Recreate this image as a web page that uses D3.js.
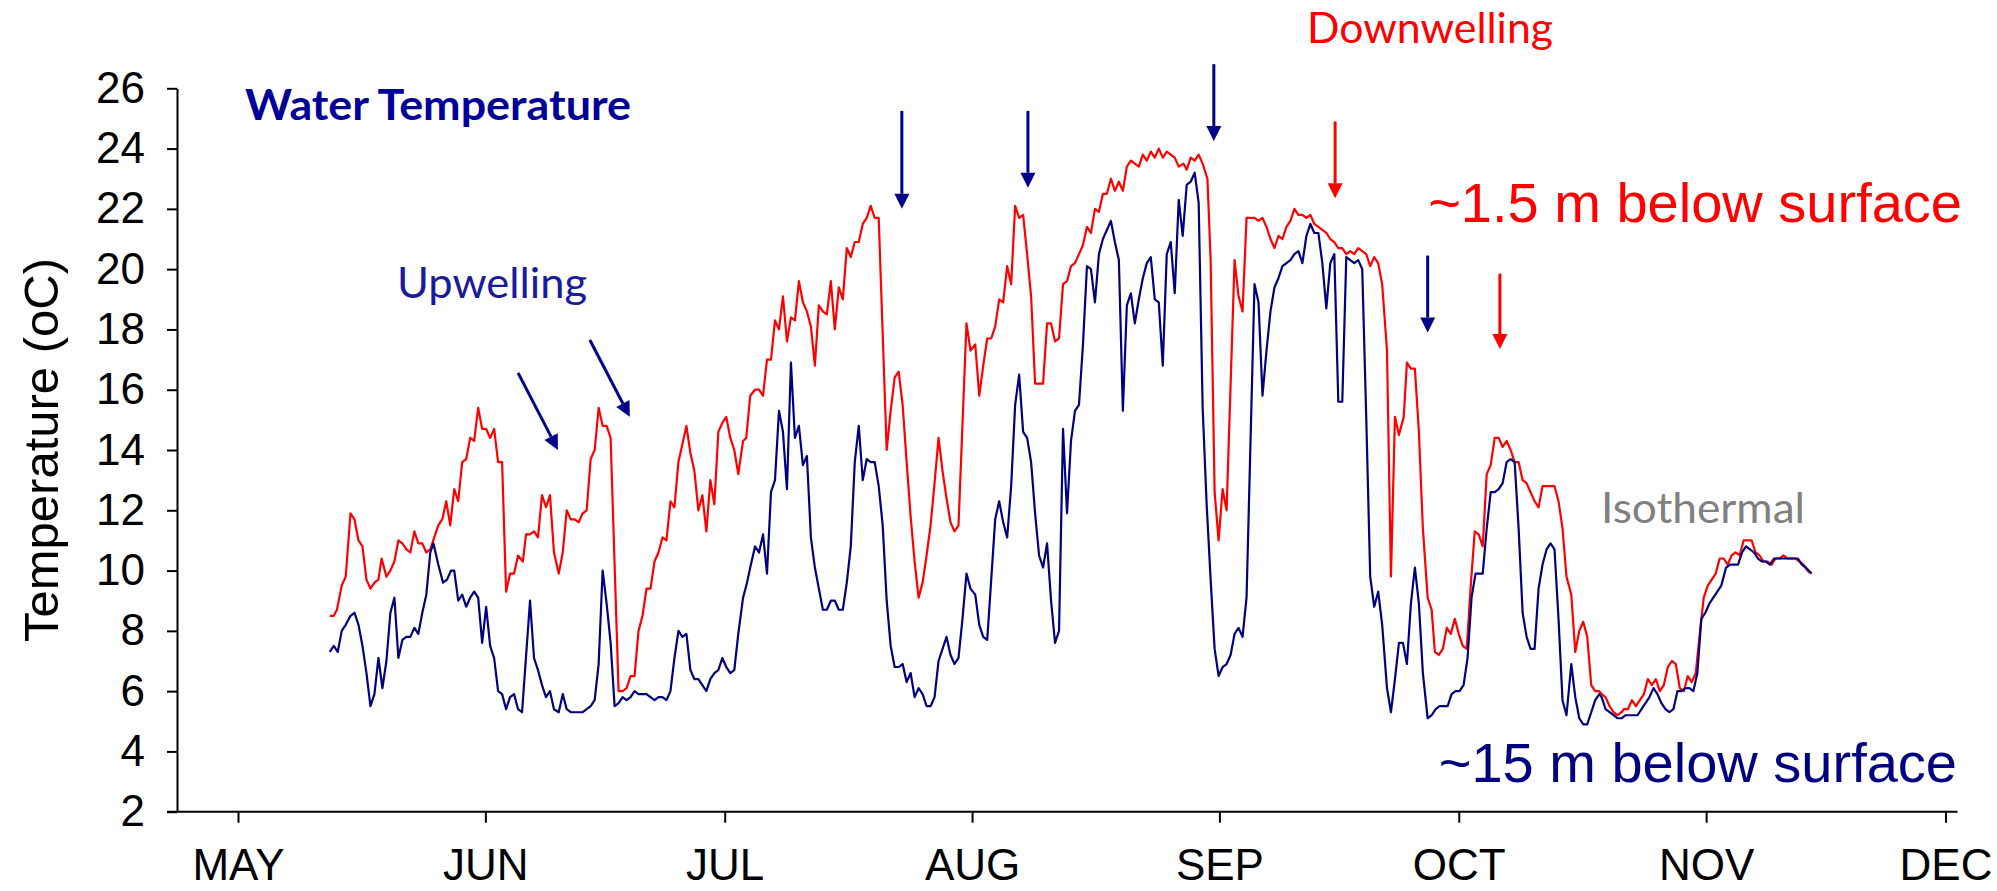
<!DOCTYPE html>
<html>
<head>
<meta charset="utf-8">
<script src="https://cdn.jsdelivr.net/npm/d3@7"></script>
<style>
  body { margin: 0; background: #fff; }
  svg { display: block; }
</style>
</head>
<body>
<svg width="1997" height="891"></svg>
<script>
// day offset from May 1, temperature (oC)
const surfaceSeries = [
  [11.5,8.5],[12.0,8.5],[12.4,8.7],[13.0,9.5],[13.5,9.8],[14.1,11.9],[14.6,11.7],[15.1,11.0],[15.6,10.8],[16.1,9.7],
  [16.6,9.4],[17.1,9.6],[17.6,9.7],[18.0,10.4],[18.6,9.8],[19.1,10.0],[19.6,10.3],[20.1,11.0],[20.6,10.9],[21.1,10.7],
  [21.6,10.6],[22.1,11.3],[22.6,10.9],[23.1,10.9],[23.6,10.6],[24.1,10.7],[24.6,11.1],[25.1,11.5],[25.6,11.7],[26.1,12.3],
  [26.6,11.5],[27.1,12.7],[27.6,12.3],[28.1,13.6],[28.6,13.7],[29.1,14.4],[29.6,14.3],[30.1,15.4],[30.6,14.7],[31.1,14.7],
  [31.6,14.4],[32.1,14.7],[32.6,13.6],[33.1,13.6],[33.6,9.3],[34.1,9.9],[34.6,9.9],[35.1,10.5],[35.7,10.3],[36.1,11.2],
  [36.6,11.2],[37.1,11.3],[37.6,11.1],[38.1,12.5],[38.6,12.1],[39.1,12.5],[39.6,10.6],[40.2,9.9],[40.7,10.6],[41.2,12.0],
  [41.7,11.7],[42.2,11.7],[42.7,11.6],[43.2,11.9],[43.7,12.0],[44.2,13.7],[44.7,14.0],[45.2,15.4],[45.7,14.8],[46.2,14.8],
  [46.7,14.4],[47.7,6.0],[48.2,6.0],[48.7,6.1],[49.2,6.5],[49.7,6.5],[50.2,8.0],[50.7,8.5],[51.2,9.4],[51.7,9.4],
  [52.2,10.3],[52.7,10.6],[53.2,11.1],[53.7,11.0],[54.2,12.3],[54.7,12.1],[55.2,13.6],[55.7,14.2],[56.2,14.8],[56.7,13.9],
  [57.2,13.3],[57.7,12.0],[58.2,12.5],[58.7,11.3],[59.2,13.0],[59.7,12.2],[60.2,14.6],[60.7,14.9],[61.2,15.1],[61.7,14.4],
  [62.2,14.0],[62.7,13.2],[63.3,14.3],[63.7,14.4],[64.2,15.8],[64.8,16.0],[65.3,16.0],[65.8,15.8],[66.3,17.0],[66.8,17.0],
  [67.3,18.3],[67.8,18.0],[68.3,19.1],[68.8,17.6],[69.3,18.4],[69.8,18.3],[70.3,19.6],[70.8,18.9],[71.3,18.6],[71.8,18.1],
  [72.3,16.8],[72.8,18.8],[73.3,18.6],[73.8,18.5],[74.3,19.6],[74.8,18.0],[75.3,19.4],[75.8,19.0],[76.3,20.7],[76.8,20.4],
  [77.3,20.9],[77.8,20.9],[78.3,21.5],[78.8,21.7],[79.3,22.1],[79.8,21.7],[80.3,21.7],[81.3,14.0],[81.8,15.3],[82.3,16.4],
  [82.8,16.6],[83.3,15.5],[83.8,13.6],[84.3,11.8],[84.8,10.3],[85.3,9.1],[85.8,9.6],[86.3,10.5],[86.8,11.5],[87.3,12.9],
  [87.8,14.4],[88.3,13.3],[88.8,12.4],[89.3,11.6],[89.8,11.3],[90.3,11.5],[91.3,18.2],[91.8,17.3],[92.4,17.5],[92.9,15.8],
  [93.4,16.8],[93.9,17.7],[94.4,17.7],[94.9,18.1],[95.4,19.0],[95.9,18.9],[96.4,20.1],[96.9,19.5],[97.4,22.1],[97.9,21.7],
  [98.4,21.8],[98.9,20.5],[99.4,19.1],[99.9,16.2],[100.4,16.2],[100.9,16.2],[101.4,18.2],[101.9,18.2],[102.4,17.6],[102.9,17.7],
  [103.4,19.5],[103.9,19.6],[104.4,20.1],[104.9,20.2],[105.4,20.5],[105.9,20.8],[106.4,21.4],[106.9,21.2],[107.4,22.0],[107.9,21.9],
  [108.4,22.5],[108.9,22.5],[109.4,23.0],[109.9,22.6],[110.4,22.9],[110.9,22.6],[111.4,23.4],[111.9,23.6],[112.4,23.5],[112.9,23.4],
  [113.4,23.8],[113.9,23.6],[114.4,23.9],[114.9,23.7],[115.4,24.0],[115.9,23.7],[116.4,23.9],[116.9,23.8],[117.4,23.7],[117.9,23.4],
  [118.5,23.5],[118.9,23.3],[119.4,23.7],[119.9,23.6],[120.4,23.8],[120.9,23.5],[121.5,23.0],[121.9,20.3],[122.4,12.6],[122.9,11.0],
  [123.4,12.7],[123.9,12.0],[124.9,20.3],[125.4,19.1],[125.9,18.6],[126.4,21.7],[126.9,21.7],[127.4,21.7],[127.9,21.6],[128.4,21.7],
  [128.9,21.4],[129.4,21.0],[129.9,20.7],[130.4,21.1],[130.9,21.0],[131.4,21.4],[131.9,21.6],[132.4,22.0],[132.9,21.8],[133.4,21.8],
  [133.9,21.7],[134.4,21.8],[134.9,21.5],[135.4,21.4],[135.9,21.3],[136.4,21.2],[136.9,21.0],[137.4,20.9],[137.9,20.7],[138.4,20.7],
  [138.9,20.5],[139.4,20.6],[139.9,20.5],[140.4,20.7],[140.9,20.6],[141.4,20.5],[141.9,20.1],[142.4,20.4],[142.9,20.2],[143.4,19.5],
  [144.0,17.3],[144.5,9.8],[145.0,15.1],[145.5,14.5],[146.1,15.1],[146.5,16.9],[147.0,16.7],[147.5,16.7],[148.0,14.6],[148.5,11.4],
  [149.1,9.1],[149.6,8.7],[150.0,7.3],[150.5,7.2],[151.0,7.4],[151.5,8.1],[152.0,7.9],[152.5,8.4],[153.0,7.9],[153.5,7.5],
  [154.0,7.4],[154.5,9.5],[155.0,11.3],[155.5,11.2],[156.0,10.8],[156.5,13.2],[157.0,13.5],[157.5,14.4],[158.0,14.4],[158.5,14.1],
  [159.0,14.3],[159.5,14.0],[160.0,13.6],[160.5,13.6],[161.0,13.0],[161.5,12.9],[162.0,12.6],[162.5,12.3],[163.0,12.1],[163.5,12.8],
  [164.0,12.8],[164.5,12.8],[165.0,12.8],[165.5,12.3],[166.0,11.4],[166.5,9.8],[167.1,9.2],[167.6,7.3],[168.1,8.0],[168.6,8.3],
  [169.1,7.8],[169.6,6.2],[170.1,6.0],[170.6,6.0],[170.9,5.9],[171.4,5.8],[171.9,5.5],[172.4,5.3],[172.9,5.2],[173.4,5.3],
  [173.7,5.4],[174.2,5.4],[174.7,5.7],[175.2,5.5],[175.7,5.7],[176.2,5.9],[176.7,6.4],[177.2,6.2],[177.7,6.4],[178.2,6.0],
  [178.7,6.2],[179.2,6.8],[179.7,7.0],[180.2,6.9],[180.7,6.1],[181.2,6.0],[181.7,6.5],[182.2,6.3],[182.7,6.6],[183.2,7.9],
  [183.7,9.1],[184.2,9.5],[184.7,9.7],[185.2,9.9],[185.7,10.4],[186.2,10.4],[186.7,10.2],[187.2,10.5],[187.7,10.6],[188.2,10.5],
  [188.7,11.0],[189.2,11.0],[189.7,11.0],[190.2,10.6],[190.7,10.5],[191.2,10.3],[191.7,10.3],[192.2,10.2],[192.7,10.4],[193.2,10.4],
  [193.7,10.5],[194.2,10.4],[194.7,10.4],[195.2,10.4],[195.7,10.3],[196.2,10.2],[196.7,10.0],[197.2,9.9]
];

const deepSeries = [
  [11.5,7.3],[12.0,7.5],[12.5,7.3],[13.0,8.0],[13.5,8.2],[14.1,8.5],[14.6,8.6],[15.1,8.2],[15.6,7.5],[16.1,6.6],
  [16.6,5.5],[17.1,5.9],[17.6,7.1],[18.1,6.1],[18.6,7.0],[19.1,8.6],[19.6,9.1],[20.1,7.1],[20.6,7.7],[21.1,7.8],
  [21.6,7.8],[22.1,8.1],[22.6,7.9],[23.1,8.6],[23.6,9.2],[24.1,10.6],[24.5,10.9],[25.1,10.2],[25.7,9.6],[26.2,9.7],
  [26.7,10.0],[27.1,10.0],[27.6,9.0],[28.1,9.2],[28.6,8.8],[29.1,9.1],[29.6,9.3],[30.1,9.1],[30.6,7.6],[31.1,8.8],
  [31.6,7.5],[32.1,7.1],[32.6,6.0],[33.1,5.9],[33.6,5.4],[34.1,5.8],[34.6,5.9],[35.1,5.4],[35.6,5.3],[36.6,9.0],
  [37.1,7.1],[37.6,6.7],[38.1,6.2],[38.6,5.8],[39.1,6.0],[39.6,5.4],[40.2,5.3],[40.7,5.9],[41.2,5.4],[41.7,5.3],
  [42.2,5.3],[42.7,5.3],[43.2,5.3],[43.7,5.4],[44.2,5.5],[44.7,5.7],[45.2,6.9],[45.7,10.0],[46.2,8.9],[46.7,7.6],
  [47.2,5.5],[47.7,5.6],[48.2,5.8],[48.7,5.7],[49.2,5.8],[49.7,6.0],[50.2,5.9],[50.7,5.9],[51.2,5.9],[51.7,5.8],
  [52.2,5.7],[52.7,5.8],[53.2,5.8],[53.7,5.7],[54.2,6.0],[54.7,7.1],[55.2,8.0],[55.7,7.8],[56.2,7.9],[56.7,6.7],
  [57.2,6.4],[57.7,6.4],[58.2,6.2],[58.7,6.0],[59.2,6.4],[59.7,6.6],[60.2,6.7],[60.7,7.1],[61.2,6.8],[61.7,6.6],
  [62.2,6.7],[62.7,7.9],[63.3,9.1],[63.8,9.6],[64.2,10.1],[64.8,10.8],[65.3,10.6],[65.8,11.2],[66.3,9.9],[66.8,12.6],
  [67.3,13.0],[67.8,15.3],[68.3,14.6],[68.8,12.7],[69.3,16.9],[69.8,14.4],[70.3,14.8],[70.8,13.5],[71.3,13.8],[71.8,11.1],
  [72.3,10.1],[72.8,9.4],[73.3,8.7],[73.8,8.7],[74.3,9.0],[74.8,9.0],[75.3,8.7],[75.8,8.7],[76.3,9.6],[76.8,10.8],
  [77.3,13.6],[77.8,14.8],[78.3,13.0],[78.8,13.7],[79.3,13.6],[79.8,13.6],[80.3,12.8],[80.8,11.5],[81.3,9.0],[81.8,7.5],
  [82.3,6.8],[82.8,6.8],[83.3,6.9],[83.8,6.3],[84.3,6.6],[84.8,5.8],[85.3,6.1],[85.8,5.9],[86.3,5.5],[86.8,5.5],
  [87.3,5.8],[87.8,7.0],[88.3,7.4],[88.8,7.8],[89.3,7.2],[89.8,6.9],[90.3,7.1],[90.8,8.4],[91.3,9.9],[91.8,9.4],
  [92.4,9.2],[92.9,8.2],[93.4,7.8],[93.9,7.7],[94.4,9.7],[94.9,11.7],[95.4,12.3],[95.9,11.6],[96.4,11.1],[96.9,12.8],
  [97.4,15.5],[97.9,16.5],[98.4,14.6],[98.9,14.4],[99.4,13.6],[99.9,11.9],[100.4,10.5],[100.9,10.1],[101.4,10.9],[101.9,9.0],
  [102.4,7.6],[102.9,8.0],[103.4,14.7],[103.9,11.9],[104.4,14.3],[104.9,15.3],[105.4,15.5],[105.9,17.5],[106.4,20.1],[106.9,20.0],
  [107.4,18.9],[107.9,20.5],[108.4,21.0],[108.9,21.3],[109.4,21.6],[109.9,20.9],[110.4,20.3],[110.9,15.3],[111.4,18.8],[111.9,19.2],
  [112.4,18.2],[112.9,19.0],[113.4,19.7],[113.9,20.2],[114.4,20.4],[114.9,19.0],[115.4,18.9],[115.9,16.8],[116.4,20.5],[116.9,20.9],
  [117.4,19.2],[117.9,22.3],[118.4,21.1],[118.9,22.8],[119.4,22.9],[119.9,23.2],[120.4,22.2],[120.9,15.4],[121.4,12.2],[121.9,9.7],
  [122.4,7.4],[122.9,6.5],[123.4,6.8],[123.9,6.9],[124.4,7.2],[124.9,7.9],[125.4,8.1],[125.9,7.8],[126.4,9.1],[126.9,14.3],
  [127.4,19.5],[127.9,18.9],[128.4,15.8],[128.9,17.3],[129.4,18.6],[129.9,19.4],[130.4,19.7],[130.9,20.1],[131.4,20.2],[131.9,20.3],
  [132.4,20.5],[132.9,20.6],[133.4,20.2],[133.9,21.1],[134.4,21.5],[134.9,21.2],[135.4,21.2],[135.9,20.2],[136.4,18.7],[136.9,20.2],
  [137.4,20.5],[137.9,15.6],[138.4,15.6],[138.9,20.4],[139.4,20.3],[139.9,20.2],[140.4,20.3],[140.9,20.0],[141.4,15.1],[141.9,9.8],
  [142.4,8.8],[142.9,9.3],[143.4,8.2],[144.0,6.1],[144.5,5.3],[145.0,6.4],[145.5,7.6],[146.0,7.6],[146.5,6.9],[147.0,8.9],
  [147.5,10.1],[148.0,8.9],[148.5,6.6],[149.1,5.1],[149.6,5.2],[150.1,5.4],[150.6,5.5],[151.1,5.5],[151.6,5.5],[152.1,5.9],
  [152.6,6.0],[153.1,6.0],[153.6,6.2],[154.1,7.1],[154.6,9.1],[155.1,9.9],[156.0,9.9],[156.5,11.4],[157.0,12.6],[157.5,12.6],
  [158.0,12.7],[158.5,12.9],[159.0,13.6],[159.5,13.7],[160.0,13.6],[160.5,11.4],[161.0,8.6],[161.5,7.8],[162.0,7.4],[162.5,7.4],
  [163.0,9.4],[163.5,10.2],[164.0,10.7],[164.5,10.9],[165.0,10.7],[165.5,8.4],[166.0,5.7],[166.5,5.2],[167.1,6.9],[167.6,5.8],
  [168.1,5.1],[168.6,4.9],[169.1,4.9],[169.6,5.3],[170.1,5.7],[170.6,5.9],[170.9,5.8],[171.4,5.4],[171.9,5.3],[172.4,5.2],
  [172.9,5.1],[173.4,5.1],[173.9,5.2],[174.4,5.2],[174.9,5.2],[175.4,5.2],[175.9,5.4],[176.4,5.6],[176.9,5.8],[177.4,6.1],
  [177.9,5.9],[178.4,5.6],[178.9,5.4],[179.4,5.3],[179.9,5.4],[180.4,6.0],[180.9,6.0],[181.4,6.1],[181.9,6.1],[182.4,6.0],
  [182.9,6.6],[183.4,8.4],[183.9,8.6],[184.4,8.9],[184.9,9.1],[185.4,9.3],[185.9,9.5],[186.5,10.1],[187.0,10.2],[187.5,10.2],
  [188.0,10.2],[188.5,10.6],[189.0,10.8],[189.5,10.7],[190.0,10.6],[190.5,10.4],[191.0,10.3],[191.5,10.3],[192.0,10.2],[192.5,10.4],
  [193.0,10.4],[193.5,10.4],[194.0,10.4],[194.5,10.4],[195.0,10.4],[195.5,10.4],[196.0,10.2],[196.5,10.1],[197.2,9.9]
];

const monthLabels = ["MAY", "JUN", "JUL", "AUG", "SEP", "OCT", "NOV", "DEC"];
const yTicks = [2, 4, 6, 8, 10, 12, 14, 16, 18, 20, 22, 24, 26];

// arrows: [day0, temp0, day1, temp1] (tail -> tip)
const upwellingArrows = [
  [35.1, 16.56, 40.1, 14.0],
  [44.1, 17.65, 49.1, 15.1],
  [83.2, 25.25, 83.2, 22.0],
  [99.0, 25.25, 99.0, 22.7],
  [122.3, 26.8, 122.3, 24.25],
  [149.1, 20.45, 149.1, 17.9]
];
const downwellingArrows = [
  [137.5, 24.9, 137.5, 22.35],
  [158.15, 19.85, 158.15, 17.35]
];

const t0 = Date.UTC(2011, 4, 1);
const toDate = d => new Date(t0 + d * 864e5);

const svg = d3.select("svg");

const x = d3.scaleUtc()
  .domain([toDate(0), new Date(Date.UTC(2011, 11, 1))])
  .range([238, 1945.5]);
const y = d3.scaleLinear().domain([2, 26]).range([811.7, 88.3]);

const axisX = x.range()[0] - 61; // y axis sits left of May 1
const axisY = y(2);

// y axis
svg.append("g")
  .attr("transform", `translate(${axisX},0)`)
  .call(d3.axisLeft(y).tickValues(yTicks).tickSize(10).tickSizeOuter(0).tickPadding(22))
  .call(g => g.selectAll("path,line").attr("stroke", "#000").attr("stroke-width", 2))
  .call(g => g.selectAll("text")
    .attr("font-family", "'Liberation Sans', Arial, sans-serif")
    .attr("font-size", 44).attr("fill", "#000"));

// x axis
const monthTicks = d3.utcMonth.range(toDate(0), new Date(Date.UTC(2011, 11, 2)));
svg.append("g")
  .attr("transform", `translate(0,${axisY})`)
  .call(d3.axisBottom(x).tickValues(monthTicks).tickSize(11).tickSizeOuter(0).tickPadding(26)
    .tickFormat((d, i) => monthLabels[i]))
  .call(g => g.select(".domain").attr("d", `M${axisX - 10},0H${x.range()[1] + 12}`))
  .call(g => g.selectAll("path,line").attr("stroke", "#000").attr("stroke-width", 2))
  .call(g => g.selectAll("text")
    .attr("font-family", "'Liberation Sans', Arial, sans-serif")
    .attr("font-size", 44).attr("fill", "#000"));

// y axis title
svg.append("text")
  .attr("transform", "translate(58,450) rotate(-90)")
  .attr("text-anchor", "middle")
  .attr("font-family", "'Liberation Sans', Arial, sans-serif")
  .attr("font-size", 49)
  .attr("fill", "#000")
  .text("Temperature (oC)");

const line = d3.line()
  .x(d => x(toDate(d[0])))
  .y(d => y(d[1]));

svg.append("path")
  .datum(surfaceSeries)
  .attr("fill", "none")
  .attr("stroke", "#ff0000")
  .attr("stroke-width", 2.2)
  .attr("stroke-linejoin", "round")
  .attr("d", line);

svg.append("path")
  .datum(deepSeries)
  .attr("fill", "none")
  .attr("stroke", "#000080")
  .attr("stroke-width", 2.2)
  .attr("stroke-linejoin", "round")
  .attr("d", line);

// arrows
function drawArrows(list, color) {
  const headLen = 15, headW = 7.5;
  list.forEach(a => {
    const x0 = x(toDate(a[0])), y0 = y(a[1]);
    const x1 = x(toDate(a[2])), y1 = y(a[3]);
    const len = Math.hypot(x1 - x0, y1 - y0);
    const ux = (x1 - x0) / len, uy = (y1 - y0) / len;
    const bx = x1 - ux * headLen, by = y1 - uy * headLen;
    svg.append("line")
      .attr("x1", x0).attr("y1", y0)
      .attr("x2", bx).attr("y2", by)
      .attr("stroke", color).attr("stroke-width", 3);
    svg.append("path")
      .attr("d", `M${x1},${y1}L${bx - uy * headW},${by + ux * headW}L${bx + uy * headW},${by - ux * headW}Z`)
      .attr("fill", color);
  });
}
drawArrows(upwellingArrows, "#00008b");
drawArrows(downwellingArrows, "#ff0000");

// annotations
const sideFont = "Lato, 'Open Sans', sans-serif";
svg.append("text")
  .attr("x", 245).attr("y", 120)
  .attr("font-family", sideFont).attr("font-weight", "bold").attr("font-size", 42)
  .attr("textLength", 386).attr("lengthAdjust", "spacingAndGlyphs")
  .attr("fill", "#000099")
  .text("Water Temperature");

svg.append("text")
  .attr("x", 397).attr("y", 298)
  .attr("font-family", sideFont).attr("font-size", 42)
  .attr("textLength", 190).attr("lengthAdjust", "spacingAndGlyphs")
  .attr("fill", "#1a1a9e")
  .text("Upwelling");

svg.append("text")
  .attr("x", 1307).attr("y", 43)
  .attr("font-family", sideFont).attr("font-size", 42)
  .attr("textLength", 246).attr("lengthAdjust", "spacingAndGlyphs")
  .attr("fill", "#ff0000")
  .text("Downwelling");

svg.append("text")
  .attr("x", 1601).attr("y", 523)
  .attr("font-family", sideFont).attr("font-size", 42)
  .attr("textLength", 204).attr("lengthAdjust", "spacingAndGlyphs")
  .attr("fill", "#808080")
  .text("Isothermal");

svg.append("text")
  .attr("x", 1962).attr("y", 222)
  .attr("text-anchor", "end")
  .attr("font-family", "'Liberation Sans', Arial, sans-serif").attr("font-size", 56)
  .attr("fill", "#ff0000")
  .text("~1.5 m below surface");

svg.append("text")
  .attr("x", 1957).attr("y", 782)
  .attr("text-anchor", "end")
  .attr("font-family", "'Liberation Sans', Arial, sans-serif").attr("font-size", 56)
  .attr("fill", "#000080")
  .text("~15 m below surface");
</script>
</body>
</html>
